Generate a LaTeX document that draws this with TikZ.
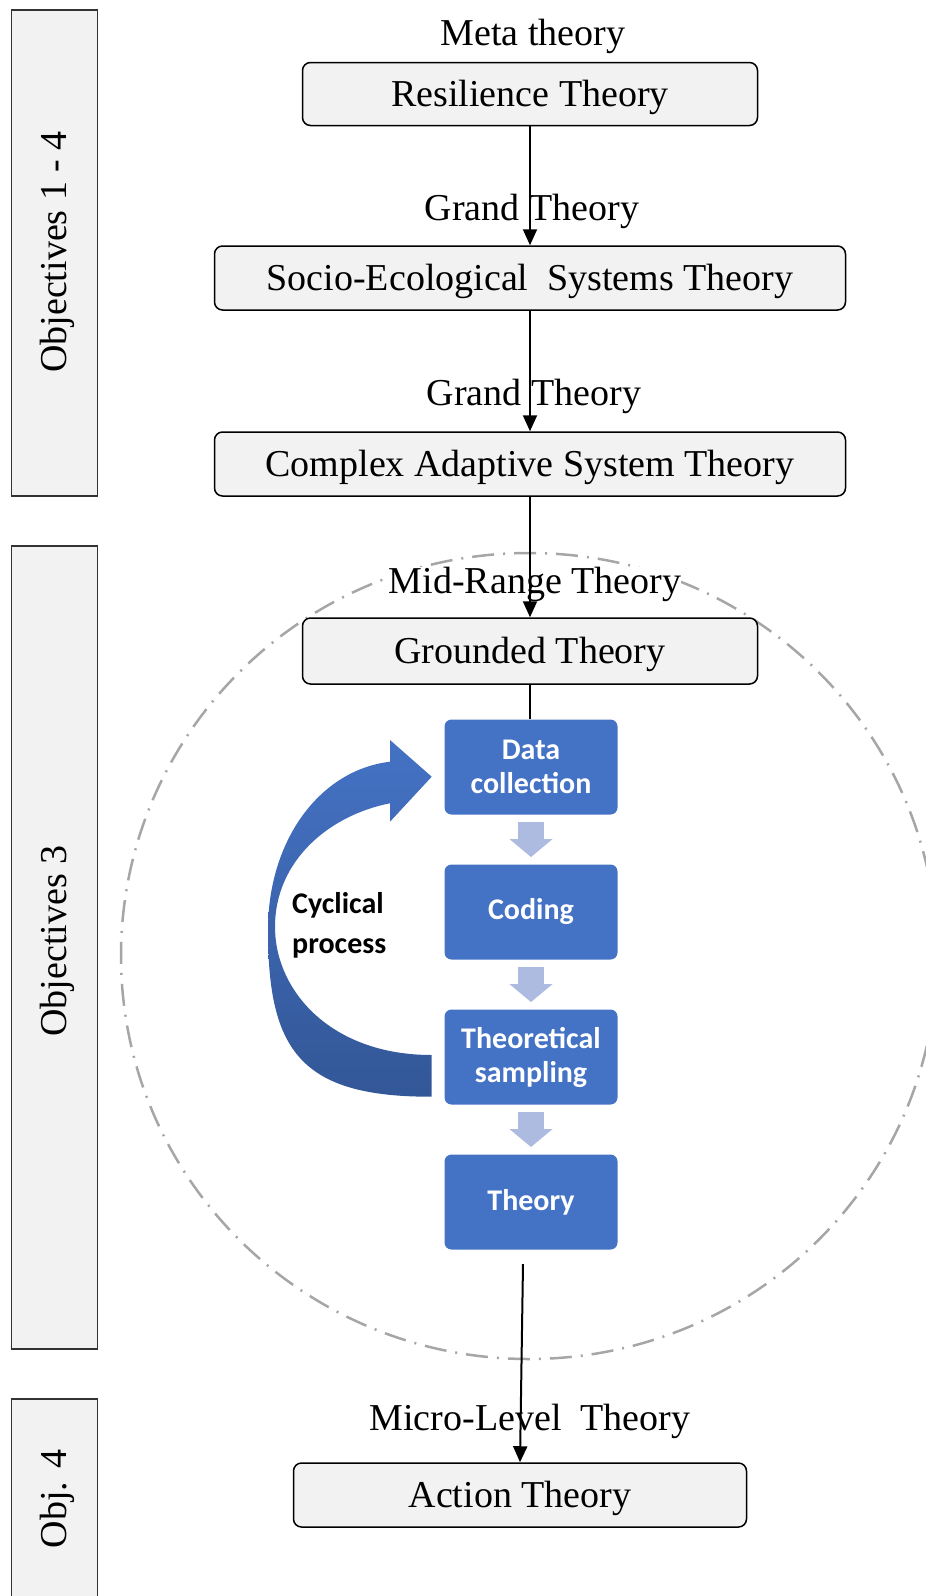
\documentclass[tikz,border=0pt]{standalone}
\usepackage{fontspec}
\setmainfont{Liberation Serif}
\newfontfamily\calibri{Carlito}
\usetikzlibrary{arrows.meta,calc}

\definecolor{boxgray}{HTML}{F2F2F2}
\definecolor{stepblue}{HTML}{4472C4}
\definecolor{flowblue}{HTML}{ADBBE0}
\definecolor{cycletop}{HTML}{4472C4}
\definecolor{cyclebot}{HTML}{335797}
\definecolor{ringgray}{HTML}{A6A6A6}

\begin{document}
\begin{tikzpicture}[x=1pt,y=-1pt,
  theorybox/.style={draw=black, line width=1.5pt, fill=boxgray, rounded corners=8pt,
    minimum height=63pt, inner sep=0pt, text height=30pt, text depth=6pt,
    font=\fontsize{38}{44}\selectfont},
  levellabel/.style={fill=white, inner sep=0pt, font=\fontsize{38}{44}\selectfont},
  objbox/.style={draw=black!80, line width=1.4pt, fill=boxgray, inner sep=0pt, minimum width=85.6pt},
  objtext/.style={rotate=90, inner sep=0pt, font=\fontsize{38}{44}\selectfont},
  stepbox/.style={fill=stepblue, rounded corners=7pt, minimum width=173pt, minimum height=95pt,
    inner sep=0pt, text=white, align=center, font=\calibri\bfseries\fontsize{30}{34}\selectfont},
  link/.style={line width=2pt, -{Triangle[length=16pt,width=14pt]}},
  flowarrow/.pic={\fill[flowblue] (-12.8,-17.5) -- (12.8,-17.5) -- (12.8,-0.5) -- (21.6,-0.5)
    -- (0,17.5) -- (-21.6,-0.5) -- (-12.8,-0.5) -- cycle;},
]
\useasboundingbox (0,0) rectangle (926,1596);
\clip (0,0) rectangle (926,1596);

% objective bands on the left
\node[objbox, minimum height=486pt] (obj1) at (54.5,253) {};
\node[objbox, minimum height=803pt] (obj2) at (54.5,947.5) {};
\node[objbox, minimum height=221pt] (obj3) at (54.5,1509.5) {};
\node[objtext] (obj1t) at (57,252) {Objectives 1 - 4};
\node[objtext] (obj2t) at (57,941) {Objectives 3};
\node[objtext] (obj3t) at (57,1499) {Obj. 4};

% dash-dotted ring around the grounded theory stage
\draw[ringgray, line width=2.5pt, dash pattern=on 22pt off 9pt on 2pt off 9pt]
  (529,956) ellipse [x radius=408pt, y radius=403pt];

% level labels
\node[levellabel] (meta)   at (533,36)   {Meta theory};
\node[levellabel] (grand1) at (532,211)  {Grand Theory};
\node[levellabel] (grand2) at (534,396)  {Grand Theory};
\node[levellabel] (mid)    at (535,584)  {Mid-Range Theory};
\node[levellabel] (micro)  at (530,1421) {Micro-Level~ Theory};

% theory boxes
\node[theorybox, minimum width=455pt] (res) at (530,94)  {Resilience Theory};
\node[theorybox, minimum width=631pt, minimum height=64pt] (soc) at (530,278) {Socio-Ecological~ Systems Theory};
\node[theorybox, minimum width=631pt, minimum height=64pt] (cas) at (530,464) {Complex Adaptive System Theory};
\node[theorybox, minimum width=455pt, minimum height=66pt] (gro) at (530,651) {Grounded Theory};
\node[theorybox, minimum width=453pt, minimum height=64pt] (act) at (520,1495) {Action Theory};

% grounded theory steps
\node[stepbox] (data)   at (531,767)  {Data\\collection};
\node[stepbox] (coding) at (531,912)  {Coding};
\node[stepbox] (samp)   at (531,1057) {Theoretical\\sampling};
\node[stepbox] (thy)    at (531,1202) {Theory};

\pic at ($(data.south)!0.5!(coding.north)$) {flowarrow};
\pic at ($(coding.south)!0.5!(samp.north)$) {flowarrow};
\pic at ($(samp.south)!0.5!(thy.north)$) {flowarrow};

% curved feedback arrow
\shade[top color=cycletop, bottom color=cyclebot]
  (431.7,1096.7) .. controls (300,1097) and (268,1050) .. (268,930)
  .. controls (268,840) and (320,770) .. (390,761.7)
  -- (390,740) -- (431.7,776.7) -- (390,821.7) -- (390,803.3)
  .. controls (330,815) and (275,860) .. (275,927)
  .. controls (275,990) and (330,1055) .. (431.7,1055)
  -- cycle;
\node[anchor=west, align=left, inner sep=0pt, font=\calibri\bfseries\fontsize{30}{40}\selectfont]
  (cyc) at (292,925) {Cyclical\\process};

% connectors
\draw[link] (res.south) -- (soc.north);
\draw[link] (soc.south) -- (cas.north);
\draw[link] (cas.south) -- (gro.north);
\draw[line width=2pt] (gro.south) -- (gro.south |- data.north);
\coordinate (tail) at (523,1264);
\draw[link] (tail) -- (act.north);
\end{tikzpicture}
\end{document}
